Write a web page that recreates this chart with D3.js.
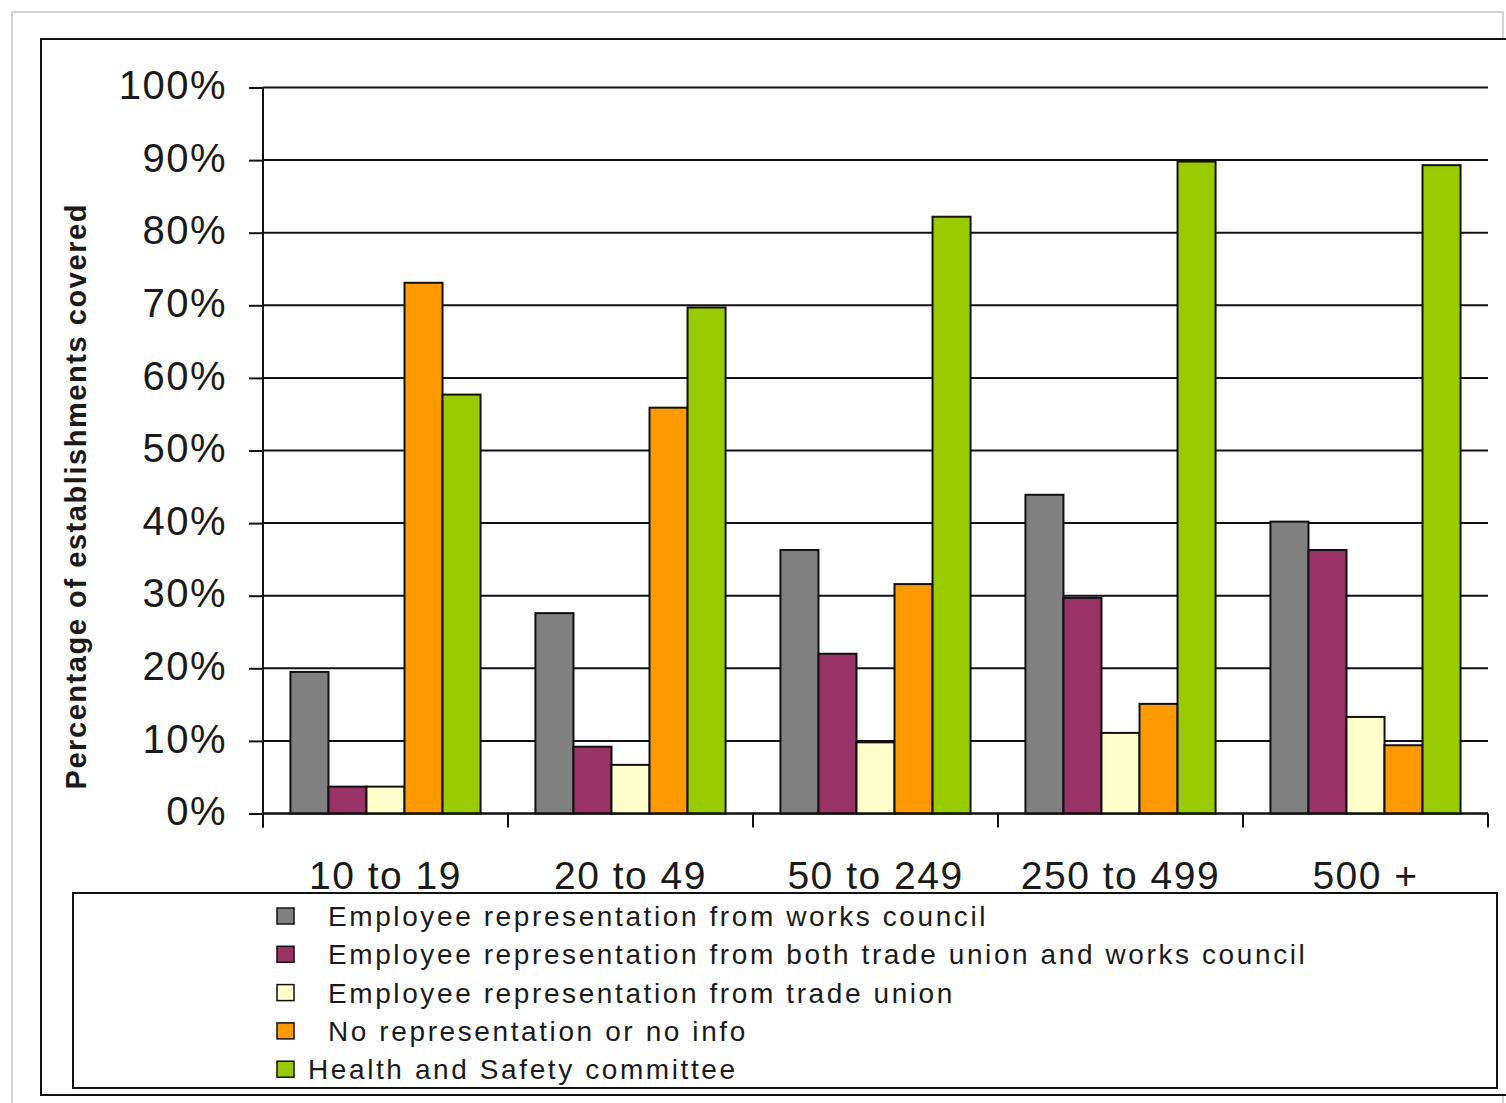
<!DOCTYPE html>
<html>
<head>
<meta charset="utf-8">
<script src="https://cdn.jsdelivr.net/npm/d3@7"></script>
<style>
  body { margin: 0; background: #fff; }
  text { font-family: "Liberation Sans", Arial, sans-serif; fill: #1a1a1a; }
</style>
</head>
<body>
<div id="chart"></div>
<script>
// categories (establishment size) and series values (% of establishments)
var categories = ["10 to 19", "20 to 49", "50 to 249", "250 to 499", "500 +"];
var seriesNames = [
  "Employee representation from works council",
  "Employee representation from both trade union and works council",
  "Employee representation from trade union",
  "No representation or no info",
  "Health and Safety committee"
];
var worksCouncil = [19.5, 27.6, 36.3, 43.9, 40.2];
var bothUnionAndCouncil = [3.7, 9.2, 22.0, 29.7, 36.3];
var tradeUnion = [3.7, 6.7, 9.8, 11.1, 13.3];
var noRepresentation = [73.1, 55.9, 31.6, 15.1, 9.4];
var healthSafety = [57.7, 69.7, 82.2, 89.8, 89.3];
var yTicks = [0, 10, 20, 30, 40, 50, 60, 70, 80, 90, 100];

var seriesValues = [worksCouncil, bothUnionAndCouncil, tradeUnion, noRepresentation, healthSafety];
var colors = ["#808080", "#993366", "#FFFFCC", "#FF9900", "#99CC00"];

var width = 1506, height = 1103;
var plot = { left: 263, right: 1488, top: 87.5, bottom: 813.5 };

var svg = d3.select("#chart")
  .append("svg")
  .attr("width", width)
  .attr("height", height);

// outer light border and chart frame
svg.append("rect")
  .attr("x", 12).attr("y", 12)
  .attr("width", 1491).attr("height", 1100)
  .attr("fill", "none")
  .attr("stroke", "#d4d4d4")
  .attr("stroke-width", 2);

svg.append("rect")
  .attr("x", 41).attr("y", 39)
  .attr("width", 1480).attr("height", 1056)
  .attr("fill", "#fff")
  .attr("stroke", "#111")
  .attr("stroke-width", 2);

// scales
var x0 = d3.scaleBand()
  .domain(categories)
  .range([plot.left, plot.right])
  .paddingInner(0.224)
  .paddingOuter(0.112);

var x1 = d3.scaleBand()
  .domain(d3.range(seriesNames.length))
  .range([0, x0.bandwidth()]);

var y = d3.scaleLinear()
  .domain([0, 100])
  .range([plot.bottom, plot.top]);

// gridlines
svg.append("g")
  .selectAll("line")
  .data(yTicks)
  .enter()
  .append("line")
  .attr("x1", plot.left)
  .attr("x2", plot.right)
  .attr("y1", function (d) { return y(d); })
  .attr("y2", function (d) { return y(d); })
  .attr("stroke", "#111")
  .attr("stroke-width", 2);

// y axis
var yAxis = svg.append("g")
  .attr("transform", "translate(" + plot.left + ",0)")
  .call(d3.axisLeft(y)
    .tickValues(yTicks)
    .tickSize(14)
    .tickPadding(22)
    .tickFormat(function (d) { return d + "%"; }));

yAxis.select(".domain").remove();
yAxis.selectAll(".tick line").attr("stroke", "#111").attr("stroke-width", 2);
yAxis.selectAll(".tick text")
  .attr("font-size", 40)
  .attr("letter-spacing", 1.5)
  .attr("fill", "#222")
  .attr("font-family", "Liberation Sans, Arial, sans-serif")
  .attr("dy", "0.28em");

svg.append("line")
  .attr("x1", plot.left).attr("x2", plot.left)
  .attr("y1", plot.top).attr("y2", plot.bottom + 14)
  .attr("stroke", "#111").attr("stroke-width", 2);

// bars
var groups = svg.append("g")
  .selectAll("g")
  .data(categories)
  .enter()
  .append("g")
  .attr("transform", function (d) { return "translate(" + x0(d) + ",0)"; });

groups.selectAll("rect")
  .data(function (d, i) {
    return seriesValues.map(function (vals, s) { return { s: s, v: vals[i] }; });
  })
  .enter()
  .append("rect")
  .attr("x", function (d) { return x1(d.s); })
  .attr("width", x1.bandwidth())
  .attr("y", function (d) { return y(d.v); })
  .attr("height", function (d) { return y(0) - y(d.v); })
  .attr("fill", function (d) { return colors[d.s]; })
  .attr("stroke", "#111")
  .attr("stroke-width", 2);

// x axis
svg.append("line")
  .attr("x1", plot.left).attr("x2", plot.right)
  .attr("y1", plot.bottom).attr("y2", plot.bottom)
  .attr("stroke", "#111").attr("stroke-width", 2);

var boundaries = categories.map(function (d) { return x0(d) - x0.step() * x0.paddingInner() / 2; });
boundaries.push(plot.right);

svg.append("g")
  .selectAll("line")
  .data(boundaries)
  .enter()
  .append("line")
  .attr("x1", function (d) { return d; })
  .attr("x2", function (d) { return d; })
  .attr("y1", plot.bottom)
  .attr("y2", plot.bottom + 14)
  .attr("stroke", "#111")
  .attr("stroke-width", 2);

svg.append("g")
  .selectAll("text")
  .data(categories)
  .enter()
  .append("text")
  .attr("x", function (d) { return x0(d) + x0.bandwidth() / 2; })
  .attr("y", 889)
  .attr("text-anchor", "middle")
  .attr("font-size", 39)
  .attr("letter-spacing", 1.5)
  .attr("fill", "#222")
  .text(function (d) { return d; });

// y axis title
svg.append("text")
  .attr("transform", "translate(86,497) rotate(-90)")
  .attr("text-anchor", "middle")
  .attr("font-size", 29)
  .attr("font-weight", "bold")
  .attr("textLength", 585)
  .attr("lengthAdjust", "spacing")
  .text("Percentage of establishments covered");

// legend
svg.append("rect")
  .attr("x", 73).attr("y", 893)
  .attr("width", 1424).attr("height", 195)
  .attr("fill", "#fff")
  .attr("stroke", "#111")
  .attr("stroke-width", 2);

var legend = svg.append("g")
  .selectAll("g")
  .data(seriesNames)
  .enter()
  .append("g")
  .attr("transform", function (d, i) { return "translate(277," + (916 + i * 38.3) + ")"; });

legend.append("rect")
  .attr("x", 0).attr("y", -8)
  .attr("width", 17).attr("height", 16)
  .attr("fill", function (d, i) { return colors[i]; })
  .attr("stroke", "#111")
  .attr("stroke-width", 1.5);

legend.append("text")
  .attr("x", function (d, i) { return i === 4 ? 31 : 51; })
  .attr("y", 10)
  .attr("font-size", 28)
  .attr("letter-spacing", 2.6)
  .attr("fill", "#222")
  .text(function (d) { return d; });
</script>
</body>
</html>
